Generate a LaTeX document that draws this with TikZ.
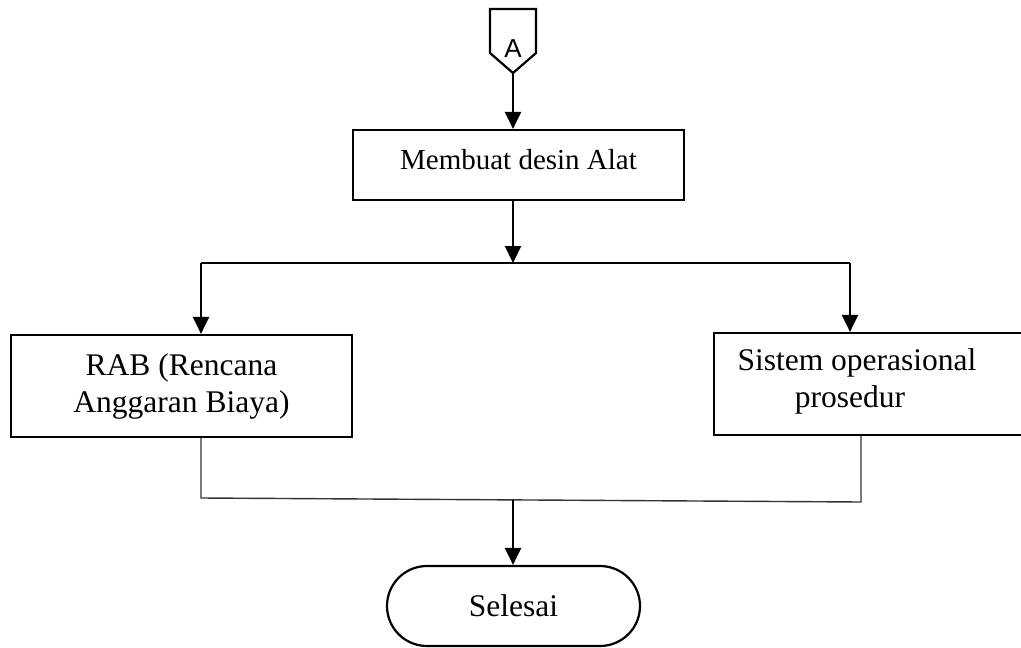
\documentclass[tikz,border=0pt]{standalone}
\usepackage{fontspec}
\setmainfont{Liberation Serif}
\newfontfamily\arialfont{Liberation Sans}
\usetikzlibrary{arrows.meta,shapes.misc}

\begin{document}
\begin{tikzpicture}[x=1pt,y=-1pt]
  \tikzset{box style/.style = {draw, line width=2.2pt, inner sep=0pt, align=center,
                               font=\fontsize{31.5}{37}\selectfont},
           arr style/.style = {line width=2.2pt, -{Triangle[width=16pt,length=17pt]}},
           join style/.style = {line width=1.4pt, draw=black!80}}
  \useasboundingbox (0,0) rectangle (1021,648);

  % penghubung halaman
  \draw[line width=2.2pt] (490,9) -- (536,9) -- (536,53) -- (513,73) -- (490,53) -- cycle;
  \node[font=\arialfont\fontsize{26}{30}\selectfont] (A) at (513,49) {A};
  \coordinate (Atip) at (513,73);

  \node[box style, minimum width=331pt, minimum height=70pt] (M) at (518.5,165) {};
  \node[font=\fontsize{29}{34}\selectfont] (Mt) at (518.5,160) {Membuat desin Alat};
  \node[box style, minimum width=341pt, minimum height=102pt] (R) at (181.5,386)
        {RAB (Rencana\\Anggaran Biaya)};
  \node[box style, minimum width=316pt, minimum height=102pt] (S) at (872,384) {};
  \node[font=\fontsize{31.5}{37}\selectfont, align=center] (St) at (857,381)
        {Sistem operasional\\\hspace*{-14pt}prosedur};
  \node[box style, rounded rectangle, minimum width=253pt, minimum height=80pt] (E)
        at (513.5,606) {Selesai};

  \coordinate (sl) at (201,263);
  \coordinate (sr) at (850,263);
  \coordinate (jl) at (201,498);
  \coordinate (jr) at (861,502);

  \draw[arr style] (Atip) -- (M.north -| Atip);
  \draw[arr style] (M.south -| Atip) -- (Atip |- sl);
  \draw[line width=1.6pt] (sl) -- (sr);
  \draw[arr style] (sl) -- (sl |- R.north);
  \draw[arr style] (sr) -- (sr |- S.north);

  \draw[join style] (jl |- R.south) -- (jl) -- (jr) -- (jr |- S.south);
  \draw[arr style] (513,499.5) -- (E.north -| 513,0);
\end{tikzpicture}
\end{document}
